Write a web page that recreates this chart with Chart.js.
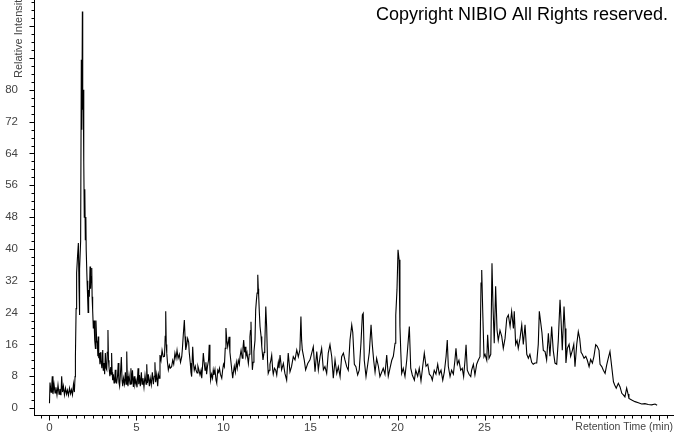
<!DOCTYPE html>
<html>
<head>
<meta charset="utf-8">
<script src="https://cdn.jsdelivr.net/npm/chart.js@4"></script>
<style>
  html, body { margin: 0; padding: 0; background: #fff; }
  #wrap { position: relative; width: 674px; height: 434px; }
</style>
</head>
<body>
<div id="wrap"><canvas id="chrom"></canvas></div>
<script>
// retention time (min) and relative intensity
const retentionTime = [
  0.00,0.03,0.09,0.13,0.16,0.20,0.26,0.32,0.37,0.43,0.49,0.55,0.60,0.66,0.70,0.75,0.80,0.86,0.92,0.98,
  1.03,1.09,1.15,1.21,1.26,1.32,1.38,1.43,1.47,1.49,1.53,1.56,1.61,1.66,1.70,1.71,1.75,1.79,1.83,1.86,
  1.89,1.91,1.94,1.97,2.00,2.03,2.06,2.09,2.11,2.16,2.20,2.22,2.25,2.29,2.33,2.36,2.39,2.43,2.45,2.48,
  2.52,2.56,2.59,2.61,2.64,2.67,2.71,2.75,2.78,2.80,2.83,2.86,2.90,2.93,2.96,3.01,3.06,3.09,3.13,3.17,
  3.21,3.25,3.29,3.32,3.36,3.39,3.42,3.47,3.52,3.55,3.57,3.60,3.63,3.67,3.71,3.75,3.78,3.82,3.86,3.91,
  3.95,3.99,4.03,4.07,4.13,4.17,4.21,4.25,4.31,4.36,4.40,4.44,4.47,4.51,4.57,4.63,4.68,4.72,4.77,4.82,
  4.87,4.91,4.97,5.03,5.09,5.13,5.17,5.22,5.28,5.32,5.37,5.43,5.49,5.55,5.59,5.63,5.68,5.74,5.79,5.85,
  5.91,5.97,6.02,6.06,6.10,6.16,6.22,6.26,6.31,6.35,6.41,6.47,6.54,6.61,6.65,6.68,6.71,6.74,6.78,6.83,
  6.89,6.94,7.02,7.08,7.14,7.21,7.27,7.33,7.39,7.46,7.53,7.60,7.64,7.69,7.75,7.79,7.83,7.89,7.94,8.00,
  8.03,8.09,8.13,8.17,8.23,8.28,8.32,8.38,8.42,8.48,8.53,8.59,8.65,8.71,8.75,8.79,8.84,8.90,8.94,8.99,
  9.03,9.08,9.14,9.18,9.22,9.26,9.31,9.37,9.41,9.45,9.51,9.57,9.61,9.67,9.72,9.77,9.82,9.90,9.95,10.00,
  10.05,10.10,10.14,10.19,10.24,10.28,10.32,10.37,10.43,10.49,10.53,10.57,10.62,10.68,10.74,10.79,10.85,10.91,10.95,11.01,
  11.08,11.12,11.16,11.21,11.25,11.29,11.35,11.43,11.48,11.52,11.55,11.58,11.62,11.66,11.70,11.75,11.81,11.85,11.89,11.93,
  11.97,12.00,12.02,12.06,12.10,12.16,12.20,12.24,12.27,12.33,12.37,12.43,12.48,12.53,12.57,12.63,12.67,12.72,12.77,12.83,
  12.86,12.93,13.00,13.06,13.10,13.15,13.19,13.25,13.34,13.44,13.53,13.63,13.72,13.82,13.91,14.01,14.11,14.21,14.30,14.39,
  14.45,14.49,14.53,14.64,14.72,14.84,14.97,15.07,15.16,15.26,15.36,15.45,15.55,15.64,15.74,15.83,15.93,16.02,16.12,16.22,
  16.31,16.41,16.51,16.60,16.70,16.79,16.89,16.98,17.08,17.17,17.27,17.37,17.43,17.52,17.61,17.71,17.80,17.90,17.98,18.03,
  18.09,18.19,18.29,18.38,18.48,18.55,18.63,18.71,18.80,18.90,18.99,19.09,19.18,19.28,19.38,19.47,19.57,19.67,19.76,19.86,
  19.90,19.97,20.03,20.09,20.14,20.19,20.24,20.33,20.43,20.53,20.62,20.68,20.76,20.85,20.97,21.05,21.16,21.25,21.35,21.45,
  21.54,21.64,21.74,21.83,21.93,22.00,22.11,22.21,22.31,22.40,22.50,22.60,22.69,22.79,22.86,22.92,23.02,23.11,23.21,23.30,
  23.36,23.44,23.53,23.63,23.72,23.80,23.88,23.94,24.01,24.11,24.21,24.26,24.36,24.45,24.55,24.64,24.74,24.80,24.84,24.90,
  24.97,25.03,25.13,25.18,25.26,25.36,25.43,25.49,25.56,25.64,25.72,25.79,25.89,25.99,26.08,26.18,26.28,26.37,26.47,26.56,
  26.66,26.71,26.79,26.87,26.94,27.04,27.14,27.23,27.33,27.43,27.52,27.61,27.71,27.80,27.90,28.00,28.09,28.15,28.23,28.30,
  28.38,28.48,28.57,28.67,28.76,28.86,28.95,29.05,29.15,29.24,29.34,29.40,29.47,29.57,29.63,29.68,29.76,29.86,29.95,30.05,
  30.13,30.20,30.30,30.39,30.47,30.55,30.62,30.72,30.82,30.91,31.01,31.10,31.20,31.29,31.39,31.48,31.58,31.64,31.74,31.83,
  31.93,32.02,32.11,32.21,32.31,32.41,32.48,32.57,32.69,32.79,32.89,32.98,33.07,33.17,33.25,33.30,33.46,33.65,33.84,34.03,
  34.22,34.41,34.61,34.80,34.92
];
const intensity = [
  1.2,6.4,4,5.5,8,3.5,6,3.8,5.2,3.3,5.8,3.5,4.8,3.2,8,4,5.5,3.3,5,3.5,
  4.5,3.2,5,3.6,4.6,3.3,6,4,7.9,12.9,25,34,38,41.5,30,23.4,35,42,87.6,70,
  99.7,75,80,62,48,55,42.3,48,39.8,32,26.8,24,29.7,28,35.6,30,33,35.2,28,24.7,
  20,22,18,17,15,22,17,16.3,13,18,12.5,13.8,11,14,12,10,14.6,9.5,11.3,8.5,
  13.8,10,9.6,14,19.6,12,10.3,8,10.3,8.5,13.8,9,7,8.5,6.3,7.5,9.6,6.5,6.3,8,
  11.3,6.5,5.5,8,12.8,7,5.5,7.5,6,9,6,14.2,8,5.5,8.3,6,10,6,9.5,5.3,
  8,5.8,7,5.2,10,6,8.3,5.5,9,6,7.5,5.2,8.2,6,11,6.3,8.5,5.5,7.5,5.8,
  9,6,8,11.5,6.5,8.5,5.5,8.5,7.5,13.3,12,14.5,12.9,13,18,24.3,16,13.8,11.5,9.6,
  10.8,10,10.4,12,11,13.8,12.5,14.5,12.5,13.5,11.5,12.9,15,18.4,22.1,18,14.6,16,17.5,16.5,
  14,11.3,9,7.9,15.4,11,9.5,10.5,9.5,8.8,10.5,9.5,8.3,9.5,7.5,10,13.8,11,9.5,11.5,
  8.5,10.5,12,15.9,10,7,8.5,7.5,9.5,8.3,9.7,7,6.3,9.5,9,10,8.5,7.5,9.5,11,
  10.4,15,20.1,17,15.4,16.5,17.9,14,11.5,9,7.5,9,10.5,9,11.5,10,12,11,12.9,14.5,
  12.5,15,17.1,14,15.4,13,14,11.2,13.5,17.9,19.5,21.7,14,9.6,11.5,14.2,17,24.7,27,28.9,
  33.5,30,28.5,24,20.5,18,15.4,13.5,12.1,14,15,25.5,20.5,12,8.7,9.5,11,12,13.3,9.5,
  8.5,10,9.5,8.3,10,11.5,10,13.3,9.6,11.2,8.7,7,13.8,9.1,10.4,12.9,12.1,14.6,12.9,14.6,
  23,17,14.6,12.1,9.6,11.2,12.1,13.8,15.4,9.1,14.2,9.6,12.9,15,9.6,10.4,8.7,13.8,15.9,12.9,
  7.5,12.1,8.7,10.4,7.9,12.9,13.8,12.1,10.4,9.5,17.1,20.9,19,11,10.4,8.3,9.5,16.3,23.4,23.8,
  12,7.9,11,14,20.9,16,12,9,12.5,10.5,7.9,9,10,8.5,13.3,8,10,12,13,16.3,
  23.4,29.7,39.8,37.3,20.5,14,8.7,10,7.9,12,17.1,20.5,10,8.3,7,9.5,8,10,6.8,10.5,
  13.8,10.5,11,8.5,8,7,9.5,8.5,11,8.5,9.5,7,9,12.9,17.1,10.5,7.9,9.5,8.5,12,
  15,11,12,9.5,10,7.9,12,15.9,9.5,8.5,7.9,9.5,11,8.3,11,12,12.9,31.4,34.7,24,
  12.9,13.5,12,18.4,12.5,13.5,36.4,25.5,16.3,30.6,19.6,17,19.5,18,15,17.5,22.6,23.4,20.5,24.3,
  20,24.3,16,17,15,17.5,20.9,16,20.9,13.5,12.5,13.5,11.5,11,11.3,11.3,16,24.3,21.5,19,
  14.5,14.2,12.1,18.8,13,20.5,14.5,11.3,11,17,27.2,22,14.5,25.5,20,11.3,15,16,13,14.5,
  16,10.4,16,19.2,17.5,14,13.5,12.5,13,12,10.4,12.2,11.3,13,15.9,15.5,14.5,11,10.4,9.5,
  8.7,10.8,12.5,14.2,10.4,6.6,5.8,5,6.2,5.3,3.7,3.3,2.8,5,3.5,2.4,2,1.6,1.3,1,
  1.1,0.9,0.8,1,0.7
];

const xTickLabels = [0, 5, 10, 15, 20, 25];
const yTickLabels = [0, 8, 16, 24, 32, 40, 48, 56, 64, 72, 80];
const xRange = [-0.89, 35.89];
const yRange = [-1.76, 102.6];
const xMinorStep = 0.5, xMajorStep = 5;
const yMinorStep = 2, yMajorStep = 8;

const points = retentionTime.map((t, i) => ({ x: t, y: intensity[i] }));

// tick marks, axis titles and the copyright line
const axisDecor = {
  id: 'axisDecor',
  afterDraw(chart) {
    const { ctx } = chart;
    const xs = chart.scales.x, ys = chart.scales.y;
    ctx.save();
    ctx.strokeStyle = '#000';
    ctx.lineWidth = 1;
    ctx.beginPath();
    const base = Math.round(xs.top) + 0.5;
    for (let v = Math.ceil(xRange[0] / xMinorStep) * xMinorStep; v <= xRange[1]; v += xMinorStep) {
      const px = Math.round(xs.getPixelForValue(v)) + 0.5;
      const len = Math.abs(v % xMajorStep) < 1e-6 ? 5 : 3;
      ctx.moveTo(px, base);
      ctx.lineTo(px, base + len);
    }
    const left = Math.round(ys.right) + 0.5;
    for (let v = 0; v <= yRange[1]; v += yMinorStep) {
      const py = Math.round(ys.getPixelForValue(v)) + 0.5;
      const len = v % yMajorStep === 0 ? 5 : 3;
      ctx.moveTo(left, py);
      ctx.lineTo(left - len, py);
    }
    ctx.stroke();

    ctx.fillStyle = '#444';
    ctx.font = '10.5px "Liberation Sans", Arial, sans-serif';
    ctx.textBaseline = 'middle';
    ctx.textAlign = 'right';
    ctx.fillText('Retention Time (min)', 673, 427);

    ctx.save();
    ctx.translate(19, 78);
    ctx.rotate(-Math.PI / 2);
    ctx.textAlign = 'left';
    ctx.font = '11px "Liberation Sans", Arial, sans-serif';
    ctx.fillText('Relative Intensity', 0, 0);
    ctx.restore();

    ctx.fillStyle = '#000';
    ctx.font = '18px "Liberation Sans", Arial, sans-serif';
    ctx.textAlign = 'right';
    ctx.textBaseline = 'alphabetic';
    ctx.fillText('Copyright NIBIO All Rights reserved.', 668, 20);
    ctx.restore();
  }
};

new Chart(document.getElementById('chrom'), {
  type: 'line',
  data: {
    datasets: [{
      data: points,
      borderColor: '#000',
      borderWidth: 1.1,
      pointRadius: 0,
      tension: 0,
      fill: false
    }]
  },
  options: {
    responsive: true,
    maintainAspectRatio: false,
    animation: false,
    layout: { padding: 0 },
    plugins: { legend: { display: false }, tooltip: { enabled: false } },
    scales: {
      x: {
        type: 'linear',
        min: xRange[0],
        max: xRange[1],
        afterBuildTicks: s => { s.ticks = xTickLabels.map(v => ({ value: v })); },
        afterFit: s => { s.height = 19; s.paddingLeft = 0; s.paddingRight = 0; },
        grid: { display: false, drawTicks: false },
        border: { display: true, color: '#000', width: 1 },
        ticks: { color: '#444', font: { size: 11.5, family: '"Liberation Sans", Arial' }, padding: 6, maxRotation: 0, autoSkip: false }
      },
      y: {
        min: yRange[0],
        max: yRange[1],
        afterBuildTicks: s => { s.ticks = yTickLabels.map(v => ({ value: v })); },
        afterFit: s => { s.width = 34; s.paddingTop = 0; s.paddingBottom = 0; },
        grid: { display: false, drawTicks: false },
        border: { display: true, color: '#000', width: 1 },
        ticks: { color: '#444', font: { size: 11.5, family: '"Liberation Sans", Arial' }, padding: 16, autoSkip: false }
      }
    }
  },
  plugins: [axisDecor]
});
</script>
</body>
</html>
